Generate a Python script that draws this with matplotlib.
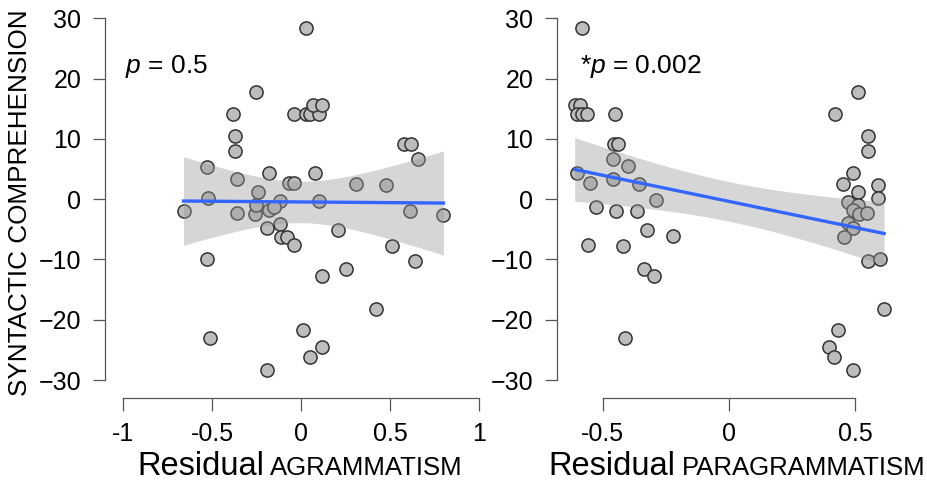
import numpy as np
import matplotlib.pyplot as plt

plt.rcParams['font.family'] = ['Liberation Sans', 'DejaVu Sans']
plt.rcParams['mathtext.fontset'] = 'custom'
plt.rcParams['mathtext.it'] = 'Liberation Sans:italic'
plt.rcParams['mathtext.rm'] = 'Liberation Sans'

# residual agrammatism vs syntactic comprehension
agr_x = [0.03, -0.25, -0.38, -0.04, 0.03, 0.05, 0.10, 0.07, 0.12, -0.37, -0.37, 0.58, 0.62,
         0.66, -0.53, -0.36, -0.18, 0.08, -0.07, -0.04, 0.31, 0.48, -0.24, -0.52, -0.12, 0.10,
         -0.66, -0.36, -0.26, -0.25, -0.18, -0.15, 0.61, 0.80, -0.12, -0.19, -0.11, -0.08,
         -0.04, 0.21, 0.51, -0.53, 0.64, 0.25, 0.12, 0.42, -0.51, 0.01, 0.12, 0.05, -0.19]
agr_y = [28.4, 17.8, 14.2, 14.2, 14.2, 14.2, 14.2, 15.7, 15.7, 10.4, 8.0, 9.1, 9.1,
         6.6, 5.4, 3.3, 4.3, 4.3, 2.7, 2.7, 2.6, 2.3, 1.2, 0.2, -0.3, -0.3,
         -1.9, -2.3, -2.45, -0.96, -1.8, -1.3, -1.9, -2.6, -4.1, -4.8, -6.2, -6.2,
         -7.6, -5.1, -7.8, -10.0, -10.2, -11.6, -12.7, -18.2, -23.0, -21.7, -24.5, -26.2, -28.4]

# residual paragrammatism vs syntactic comprehension
para_x = [-0.58, -0.61, -0.59, -0.60, -0.58, -0.56, -0.45, 0.42, 0.51, 0.55, 0.55, -0.455,
          -0.44, -0.46, -0.40, -0.60, 0.49, -0.55, -0.46, -0.355, 0.45, 0.51, 0.59, 0.59,
          -0.29, 0.47, 0.51, 0.49, 0.515, 0.547, 0.47, 0.49, 0.456, -0.526, -0.448, -0.365,
          -0.325, -0.223, -0.556, -0.418, 0.548, 0.597, -0.336, -0.296, 0.613, 0.43, -0.411,
          0.396, 0.416, 0.491]
para_y = [28.4, 15.7, 15.7, 14.2, 14.2, 14.2, 14.2, 14.2, 17.8, 10.4, 8.0, 9.1,
          9.1, 6.6, 5.5, 4.3, 4.3, 2.7, 3.3, 2.5, 2.6, 1.2, 2.3, 0.2,
          -0.1, -0.4, -1.0, -1.8, -2.45, -2.3, -4.0, -4.7, -6.2, -1.3, -1.9, -1.9,
          -5.1, -6.1, -7.6, -7.7, -10.2, -10.0, -11.6, -12.7, -18.2, -21.7, -23.0,
          -24.5, -26.2, -28.4]

y_ticks = [-30, -20, -10, 0, 10, 20, 30]
agr_ticks = [-1, -0.5, 0, 0.5, 1]
para_ticks = [-0.5, 0, 0.5]
p_labels = ['$p$ = 0.5', '*$p$ = 0.002']


def fit_band(x, y, n=100):
    # ordinary least squares with 95% confidence band
    x = np.asarray(x)
    y = np.asarray(y)
    b, a = np.polyfit(x, y, 1)
    xs = np.linspace(x.min(), x.max(), n)
    s = np.sqrt(np.sum((y - (a + b * x)) ** 2) / (len(x) - 2))
    se = s * np.sqrt(1 / len(x) + (xs - x.mean()) ** 2 / np.sum((x - x.mean()) ** 2))
    fit = a + b * xs
    return xs, fit, fit - 2.01 * se, fit + 2.01 * se


W, H = 927, 482
fig = plt.figure(figsize=(W / 100, H / 100), dpi=100)


def px_axes(l, r, t, b):
    return fig.add_axes([l / W, 1 - b / H, (r - l) / W, (b - t) / H])


ax1 = px_axes(105, 497, 0, 398)
ax2 = px_axes(557, 901, 0, 398)

panels = [(ax1, agr_x, agr_y, agr_ticks, (-1.101, 1.101)),
          (ax2, para_x, para_y, para_ticks, (-0.680, 0.680))]

for ax, x, y, xt, xl in panels:
    ax.scatter(x, y, s=90, facecolor='#bdbdbd', edgecolor='#333333', linewidth=1.1, zorder=2)
    xs, fit, lo, hi = fit_band(x, y)
    ax.fill_between(xs, lo, hi, color='#999999', alpha=0.4, linewidth=0, zorder=3)
    ax.plot(xs, fit, color='#3366FF', lw=2.4, zorder=4)
    ax.set_xlim(xl)
    ax.set_ylim(-32.97, 33.03)
    ax.set_xticks(xt)
    ax.set_xticklabels([f'{v:g}' for v in xt])
    ax.set_yticks(y_ticks)
    ax.spines['top'].set_visible(False)
    ax.spines['right'].set_visible(False)
    ax.spines['left'].set_bounds(-30, 30)
    ax.spines['bottom'].set_bounds(xt[0], xt[-1])
    for sp in ['left', 'bottom']:
        ax.spines[sp].set_color('#555555')
        ax.spines[sp].set_linewidth(0.9)
    ax.tick_params(direction='out', length=9, width=0.9, color='#555555',
                   labelsize=18, pad=8)
    ax.patch.set_visible(False)

fig.text(20 / W, 1 - 203 / H, 'SYNTACTIC COMPREHENSION', rotation=90,
         ha='center', va='center', fontsize=18.8)

fig.text(125 / W, 1 - 73 / H, p_labels[0], fontsize=19, va='baseline')
fig.text(580 / W, 1 - 73 / H, p_labels[1], fontsize=19, va='baseline')


def two_part_label(cx, big, small):
    t1 = fig.text(0, 1 - 475 / H, big, fontsize=23.5, va='baseline')
    t2 = fig.text(0, 1 - 475 / H, small, fontsize=18.5, va='baseline')
    fig.canvas.draw()
    r = fig.canvas.get_renderer()
    w1 = t1.get_window_extent(r).width
    w2 = t2.get_window_extent(r).width
    gap = 6
    x0 = cx - (w1 + gap + w2) / 2
    t1.set_x(x0 / W)
    t2.set_x((x0 + w1 + gap) / W)


two_part_label(300, 'Residual', 'AGRAMMATISM')
two_part_label(737, 'Residual', 'PARAGRAMMATISM')

fig.savefig('out.png', dpi=100)
